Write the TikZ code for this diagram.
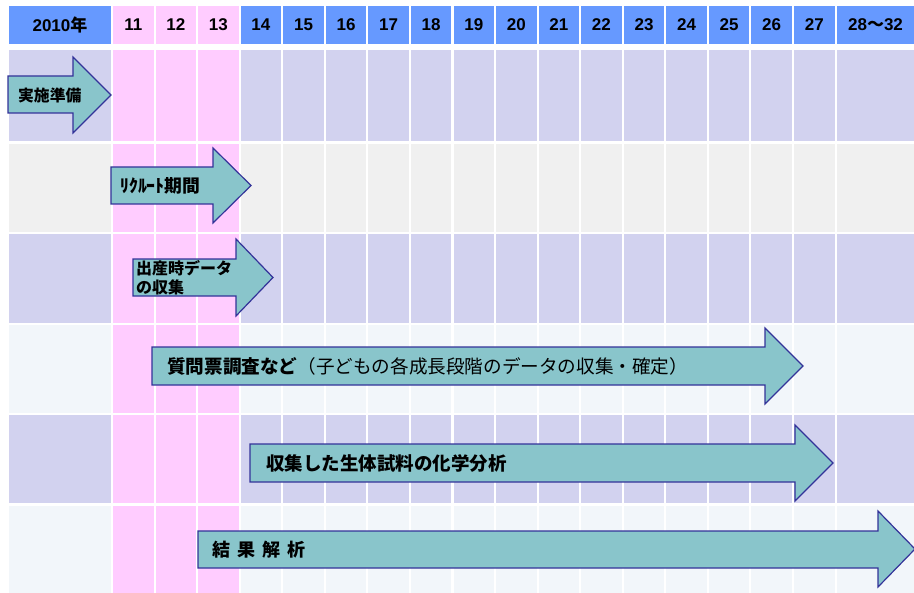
\documentclass[tikz,border=0pt]{standalone}
\usepackage{fontspec}
\setmainfont{Liberation Sans}
\newfontfamily\cjk{Noto Sans CJK JP}
\definecolor{hdrblue}{HTML}{6699FF}
\definecolor{pinkc}{HTML}{FFCCFF}
\definecolor{lav}{HTML}{D2D2EF}
\definecolor{gry}{HTML}{F0F0F0}
\definecolor{pale}{HTML}{F2F6FA}
\definecolor{arrfill}{HTML}{89C5CB}
\definecolor{arrline}{HTML}{333399}
\tikzset{
  garrow/.style={fill=arrfill, draw=arrline, line width=1.2bp, line join=miter},
  hdrlabel/.style={font=\fontsize{17bp}{18bp}\selectfont\bfseries, inner sep=0pt, anchor=center},
  arrlabel/.style={inner sep=0pt, anchor=west, text=black, align=left},
}
\begin{document}
\begin{tikzpicture}[x=1bp,y=-1bp]
\useasboundingbox (0,0) rectangle (914,593);
\fill[white] (0,0) rectangle (914,593);
% header row
\fill[hdrblue] (9,6) rectangle (111,44);
\foreach \i in {0,...,16}{
  \pgfmathsetmacro\xa{113+\i*42.5625}
  \pgfmathsetmacro\xb{\xa+40.5}
  \ifnum\i<3 \def\cc{pinkc}\else\def\cc{hdrblue}\fi
  \fill[\cc] (\xa,6) rectangle (\xb,44);
}
\fill[hdrblue] (837,6) rectangle (916,44);
% body rows
\foreach \top/\bot/\col in {50/141/lav, 144/232/gry, 234/323/lav, 325/413/pale, 415/503/lav, 506/593/pale}{
  \fill[\col] (9,\top) rectangle (111,\bot);
  \foreach \i in {0,...,16}{
    \pgfmathsetmacro\xa{113+\i*42.5625}
    \pgfmathsetmacro\xb{\xa+40.5}
    \ifnum\i<3 \def\cc{pinkc}\else\def\cc{\col}\fi
    \fill[\cc] (\xa,\top) rectangle (\xb,\bot);
  }
  \fill[\col] (837,\top) rectangle (916,\bot);
}
% header labels
\node[hdrlabel] (h0) at (60,25) {2010{\cjk 年}};
\foreach \i [evaluate=\i as \n using int(11+\i)] in {0,...,16}{
  \pgfmathsetmacro\xc{113+\i*42.5625+20.25}
  \node[hdrlabel] (h\n) at (\xc,25) {\n};
}
\node[hdrlabel] (h28) at (875.5,25) {28{\cjk ～}32};
% arrows
\draw[garrow] (8,76) -- (73,76) -- (73,57) -- (111,95) -- (73,133) -- (73,113) -- (8,113) -- cycle;
\node[arrlabel, font=\cjk\fontsize{15.8bp}{19bp}\selectfont\bfseries] (a1) at (18,95) {実施準備};

\draw[garrow] (111,167) -- (213,167) -- (213,148) -- (251,185.5) -- (213,223) -- (213,204) -- (111,204) -- cycle;
\node[arrlabel, font=\cjk\fontsize{17.8bp}{19bp}\selectfont\bfseries] (a2) at (120,185.5) {ﾘｸﾙｰﾄ期間};

\draw[garrow] (133,259) -- (236,259) -- (236,239) -- (273,277.5) -- (236,316) -- (236,296) -- (133,296) -- cycle;
\node[arrlabel, font=\cjk\fontsize{16bp}{19bp}\selectfont\bfseries] (a3) at (136,278) {出産時データ\\の収集};

\draw[garrow] (152,347) -- (765,347) -- (765,328) -- (803,366) -- (765,404) -- (765,385) -- (152,385) -- cycle;
\node[arrlabel, font=\cjk\fontsize{18.6bp}{20bp}\selectfont] (a4) at (167,366) {{\bfseries 質問票調査など}（子どもの各成長段階のデータの収集・確定）};

\draw[garrow] (250,444) -- (795,444) -- (795,425) -- (833,463) -- (795,501) -- (795,482) -- (250,482) -- cycle;
\node[arrlabel, font=\cjk\fontsize{18.5bp}{20bp}\selectfont\bfseries] (a5) at (266,463) {収集した生体試料の化学分析};

\draw[garrow] (198,531) -- (878,531) -- (878,511) -- (915,549) -- (878,587) -- (878,568) -- (198,568) -- cycle;
\node[arrlabel, font=\cjk\fontsize{18bp}{20bp}\selectfont\bfseries] (a6) at (212,549.5) {結\hspace{7bp}果\hspace{7bp}解\hspace{7bp}析};
\end{tikzpicture}
\end{document}
